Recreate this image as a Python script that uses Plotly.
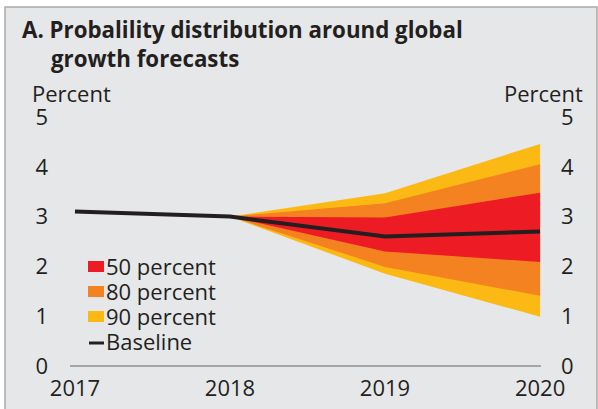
import plotly.graph_objects as go

# ---- data ----
years = [2017, 2018, 2019, 2020]
baseline = [3.1, 3.0, 2.6, 2.7]

band_years = [2018, 2019, 2020]
upper_90 = [3.0, 3.47, 4.46]
lower_90 = [3.0, 1.85, 0.99]
upper_80 = [3.0, 3.27, 4.05]
lower_80 = [3.0, 1.99, 1.41]
upper_50 = [3.0, 2.98, 3.48]
lower_50 = [3.0, 2.30, 2.09]

band_names = ["90 percent", "80 percent", "50 percent"]
band_colors = ["#FDB913", "#F58220", "#ED1C24"]
band_upper = [upper_90, upper_80, upper_50]
band_lower = [lower_90, lower_80, lower_50]

legend_labels = ["50 percent", "80 percent", "90 percent", "Baseline"]
legend_colors = ["#ED1C24", "#F58220", "#FDB913", "#231F20"]

y_ticks = [0, 1, 2, 3, 4, 5]
x_ticks = [2017, 2018, 2019, 2020]

FONT = "Open Sans"
TXT = "#231F20"
BG = "#E6E7E9"
FS = 22

fig = go.Figure()

for name, col, up, lo in zip(band_names, band_colors, band_upper, band_lower):
    fig.add_trace(go.Scatter(
        x=band_years + band_years[::-1],
        y=up + lo[::-1],
        fill="toself", fillcolor=col, mode="lines", name=name,
        line=dict(width=0, color=col), showlegend=False, hoverinfo="skip",
    ))

fig.add_trace(go.Scatter(
    x=years, y=baseline, mode="lines", name="Baseline",
    line=dict(color=TXT, width=4), showlegend=False,
))

fig.add_trace(go.Scatter(x=[None], y=[None], yaxis="y2", showlegend=False))

L, R, T, B = 70, 57, 117, 43
W, H = 598, 409
pw, ph = W - L - R, H - T - B

def px_x(p):
    return (p - L) / pw

def px_y(p):
    return (H - B - p) / ph

fig.update_layout(
    width=W, height=H,
    margin=dict(l=L, r=R, t=T, b=B, autoexpand=False),
    paper_bgcolor="white",
    plot_bgcolor="rgba(0,0,0,0)",
    font=dict(family=FONT, size=FS, color=TXT),
    showlegend=False,
    xaxis=dict(
        range=[2016.968, 2020.006], tickvals=x_ticks,
        showgrid=False, zeroline=False, showline=False, automargin=False,
        ticks="", ticklabelstandoff=7,
        tickfont=dict(size=FS, color=TXT),
    ),
    yaxis=dict(
        range=[0, 5], tickvals=y_ticks, showgrid=False, zeroline=True,
        zerolinecolor="#A6A6A6", zerolinewidth=2, automargin=False,
        showline=False, ticks="", ticklabelstandoff=21,
        tickfont=dict(size=FS, color=TXT),
    ),
    yaxis2=dict(
        range=[0, 5], tickvals=y_ticks, overlaying="y", side="right",
        showgrid=False, zeroline=False, showline=False, ticks="", automargin=False,
        ticklabelstandoff=19, tickfont=dict(size=FS, color=TXT),
    ),
)

# panel background with top/left border
fig.add_shape(type="rect", xref="paper", yref="paper",
              x0=px_x(5), x1=px_x(597), y0=px_y(420), y1=px_y(7),
              fillcolor=BG, line=dict(color="#ABABAB", width=1.5), layer="below")

# title
fig.add_annotation(
    xref="paper", yref="paper", x=px_x(20), y=px_y(12), xanchor="left", yanchor="top",
    text="<b>A. Probalility distribution around global<br>\u00a0\u00a0\u00a0\u00a0\u00a0growth forecasts</b>",
    showarrow=False, align="left", font=dict(size=22.3, color=TXT, family=FONT),
)
# axis unit labels
fig.add_annotation(
    xref="paper", yref="paper", x=px_x(30), y=px_y(93), xanchor="left", yanchor="middle",
    text="Percent", showarrow=False, font=dict(size=FS, color=TXT),
)
fig.add_annotation(
    xref="paper", yref="paper", x=px_x(585), y=px_y(93), xanchor="right", yanchor="middle",
    text="Percent", showarrow=False, font=dict(size=FS, color=TXT),
)

# legend (manual, to match the compact row spacing of the reference)
row_y = [266, 291, 316, 341]
for i, (lab, col) in enumerate(zip(legend_labels, legend_colors)):
    yc = row_y[i]
    if lab == "Baseline":
        fig.add_shape(type="line", xref="paper", yref="paper",
                      x0=px_x(89), x1=px_x(104), y0=px_y(yc + 2), y1=px_y(yc + 2),
                      line=dict(color=col, width=3))
    else:
        fig.add_shape(type="rect", xref="paper", yref="paper",
                      x0=px_x(88), x1=px_x(104), y0=px_y(yc - 5), y1=px_y(yc + 6),
                      fillcolor=col, line=dict(width=0))
    fig.add_annotation(
        xref="paper", yref="paper", x=px_x(104), y=px_y(yc), xanchor="left", yanchor="middle",
        text=lab, showarrow=False, font=dict(size=FS, color=TXT),
    )

fig.write_html("out.html")
